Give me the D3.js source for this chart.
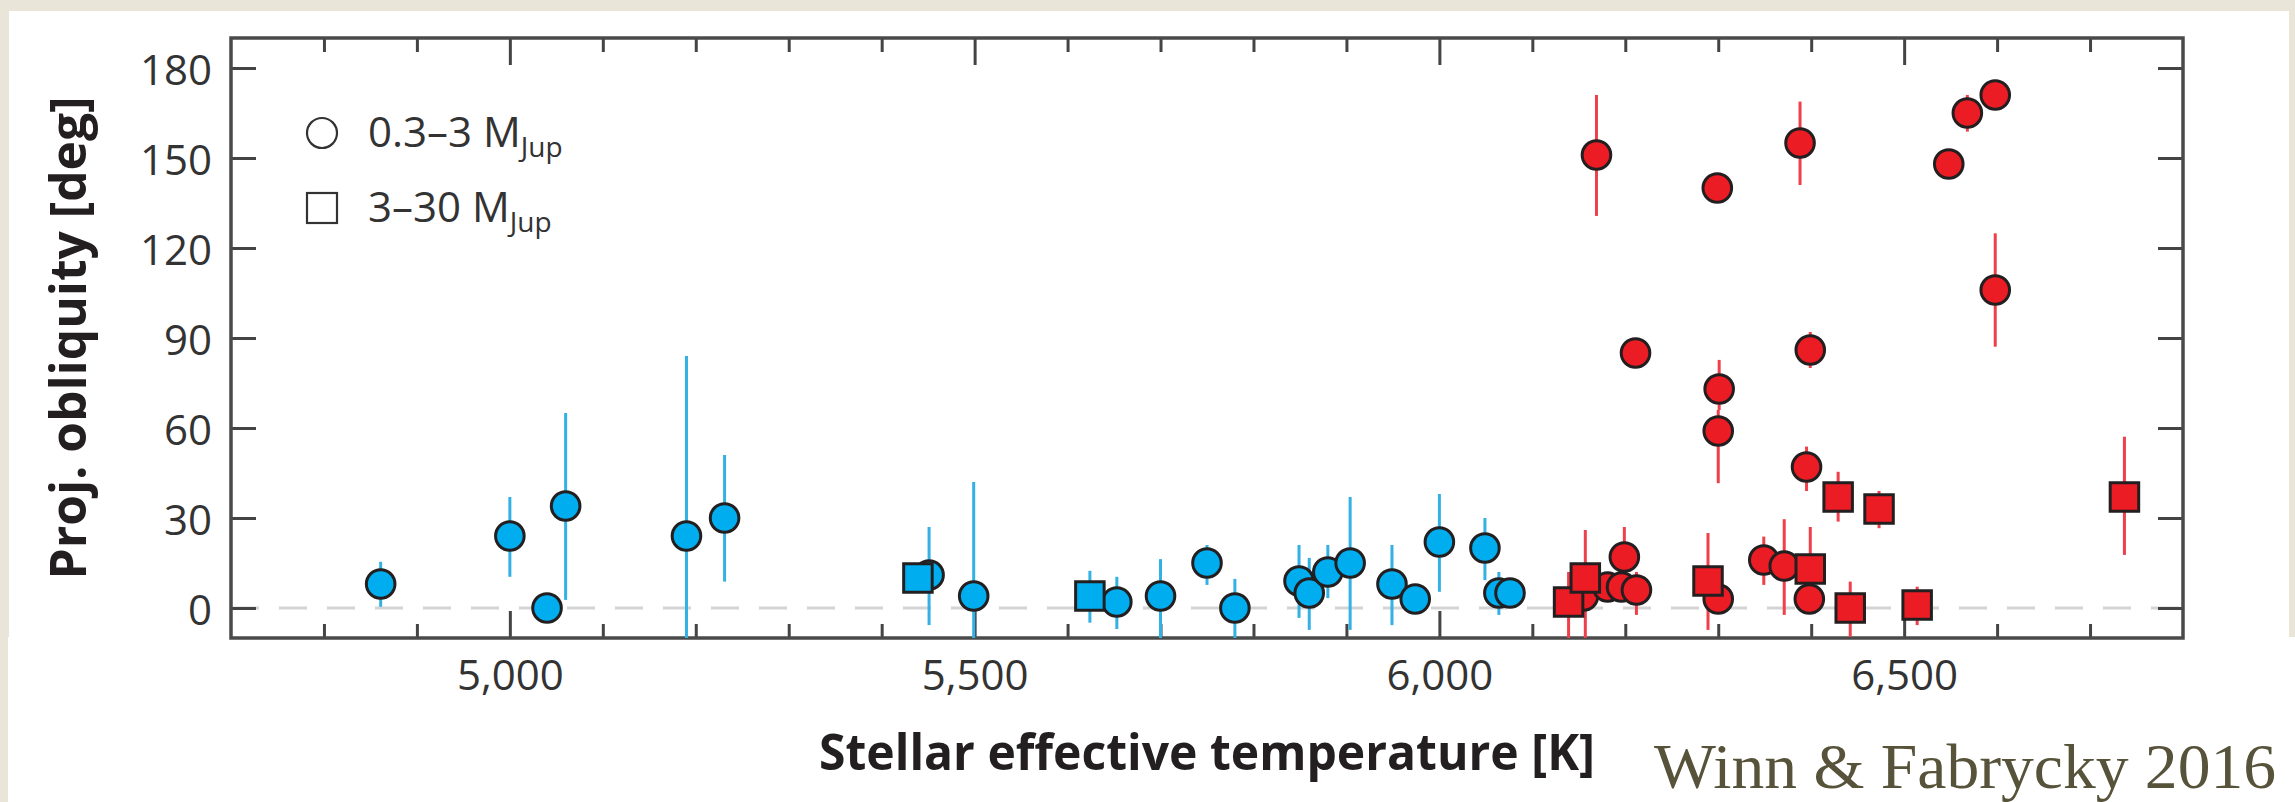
<!DOCTYPE html>
<html><head><meta charset="utf-8">
<script src="https://cdn.jsdelivr.net/npm/d3@7"></script>
<style>
body{margin:0;background:#e9e5d9;}
svg{display:block}
</style>
</head><body>
<svg id="chart" width="2295" height="802"></svg>
<script>
// Each entry: [Teff (K), projected obliquity (deg), error-bar low, error-bar high]
const coolPlanets = [
  [4861, 8, 0.4, 15.4], [5000, 24, 10.4, 37], [5040, 0, 0, 0], [5060, 34, 2.7, 65],
  [5190, 24, -40, 84], [5231, 30, 8.8, 51], [5451, 11, -5.7, 27], [5499, 4, -34, 42],
  [5653, 2, -7, 10.4], [5700, 4, -12, 16.3], [5750, 15, 7.7, 21], [5780, 0, -12, 9.7],
  [5849, 9, -3.3, 21], [5860, 5, -7.3, 16.7], [5880, 12, 3.3, 21], [5904, 15, -7.3, 37],
  [5949, 8, -5.7, 21], [5974, 3, 3, 3], [6000, 22, 5.4, 38], [6049, 20, 9.3, 30],
  [6064, 5, -2.3, 12], [6076, 5, 5, 5]
];
const coolBrownDwarfs = [
  [5439, 10, 10, 10], [5624, 4, -4.9, 12.4]
];
const hotPlanets = [
  [6155, 4, 4, 4], [6169, 151, 130.7, 171], [6181, 7, 7, 7], [6196, 7, 7, 7],
  [6199, 17, 8, 27], [6211, 85, 85, 85], [6212, 6, -2.3, 12], [6299, 140, 140, 140],
  [6300, 59, 41.6, 66], [6301, 73, 66, 82.7], [6300, 3, 3, 3], [6349, 16, 7.7, 23.8],
  [6371, 14, -2.3, 29.6], [6388, 155, 141, 168.8], [6395, 47, 39, 53.8], [6398, 3, 3, 3],
  [6399, 86, 80, 92], [6548, 148, 148, 148], [6568, 165, 158.8, 171], [6598, 171, 171, 171],
  [6598, 106, 87.1, 124.9]
];
const hotBrownDwarfs = [
  [6139, 2, -12, 12], [6157, 10, -12, 26], [6289, 9, -7.3, 25], [6399, 13, 0, 27],
  [6429, 37, 28.8, 45.4], [6442, 0, -9.6, 8.8], [6473, 33, 26.6, 39], [6514, 1, -5.7, 7.1],
  [6737, 37, 17.7, 57.1]
];
const xMajorTicks = [5000, 5500, 6000, 6500];
const xTickLabels = ["5,000", "5,500", "6,000", "6,500"];
const xMinorTicks = d3.range(4800, 6800, 100);
const yTicks = [0, 30, 60, 90, 120, 150, 180];
const legendLabels = ["0.3\u20133 M", "3\u201330 M"];
const legendSub = "Jup";
const xTitle = "Stellar effective temperature [K]";
const yTitle = "Proj. obliquity [deg]";
const credit = "Winn & Fabrycky 2016";

const blueFill = "#00aeef", blueErr = "#33b0e4";
const redFill = "#ec1c24", redErr = "#ef3f4b";

const svg = d3.select("#chart");
const L = 231, R = 2183, T = 38, B = 638;
const x = d3.scaleLinear().domain([4700, 6800]).range([L, R]);
const y = d3.scaleLinear().domain([-10, 190]).range([B, T]);

// background panel
svg.append("rect").attr("x", 0).attr("y", 0).attr("width", 2295).attr("height", 802).attr("fill", "#e9e5d9");
svg.append("rect").attr("x", 9).attr("y", 11).attr("width", 2280).attr("height", 791).attr("fill", "#fff");
svg.append("rect").attr("x", 8).attr("y", 637).attr("width", 2287).attr("height", 165).attr("fill", "#fff");

svg.append("clipPath").attr("id", "plotclip").append("rect")
  .attr("x", L).attr("y", T).attr("width", R - L).attr("height", B - T);

// zero dashed line
svg.append("line").attr("x1", L).attr("x2", R).attr("y1", y(0)).attr("y2", y(0))
  .attr("stroke", "#d4d4d4").attr("stroke-width", 3).attr("stroke-dasharray", "28,20");

function styleAxis(g) {
  g.select(".domain").remove();
  g.selectAll(".tick line").attr("stroke", "#444").attr("stroke-width", 3);
  g.selectAll(".tick text").attr("fill", "#333").attr("font-family", "'Open Sans', sans-serif").attr("font-size", 42);
}

// bottom axis
svg.append("g").attr("transform", `translate(0,${B})`)
  .call(d3.axisBottom(x).tickValues(xMinorTicks.filter(d => !xMajorTicks.includes(d))).tickFormat("").tickSize(-14))
  .call(styleAxis);
svg.append("g").attr("transform", `translate(0,${B})`)
  .call(d3.axisBottom(x).tickValues(xMajorTicks).tickFormat((d, i) => xTickLabels[i]).tickSize(-27).tickPadding(22))
  .call(styleAxis);
// top axis
svg.append("g").attr("transform", `translate(0,${T})`)
  .call(d3.axisTop(x).tickValues(xMinorTicks.filter(d => !xMajorTicks.includes(d))).tickFormat("").tickSize(-14))
  .call(styleAxis);
svg.append("g").attr("transform", `translate(0,${T})`)
  .call(d3.axisTop(x).tickValues(xMajorTicks).tickFormat("").tickSize(-27))
  .call(styleAxis);
// left axis
const ly = svg.append("g").attr("transform", `translate(${L},0)`)
  .call(d3.axisLeft(y).tickValues(yTicks).tickSize(-25).tickPadding(19))
  .call(styleAxis);
ly.selectAll(".tick text").attr("dy", "0.4em");
// right axis
svg.append("g").attr("transform", `translate(${R},0)`)
  .call(d3.axisRight(y).tickValues(yTicks).tickFormat("").tickSize(-25))
  .call(styleAxis);

// frame
svg.append("rect").attr("x", L).attr("y", T).attr("width", R - L).attr("height", B - T)
  .attr("fill", "none").attr("stroke", "#4a4a4a").attr("stroke-width", 3.5);

// error bars
const eg = svg.append("g").attr("clip-path", "url(#plotclip)");
function errBars(data, color) {
  eg.selectAll(null).data(data.filter(d => d[3] > d[2])).join("line")
    .attr("x1", d => x(d[0])).attr("x2", d => x(d[0]))
    .attr("y1", d => y(d[2])).attr("y2", d => y(d[3]))
    .attr("stroke", color).attr("stroke-width", 3);
}
errBars(coolPlanets, blueErr); errBars(coolBrownDwarfs, blueErr);
errBars(hotPlanets, redErr); errBars(hotBrownDwarfs, redErr);

const mg = svg.append("g");
function circles(data, fill) {
  mg.selectAll(null).data(data).join("circle")
    .attr("cx", d => x(d[0])).attr("cy", d => y(d[1])).attr("r", 14.3)
    .attr("fill", fill).attr("stroke", "#231f20").attr("stroke-width", 3);
}
function squares(data, fill) {
  const s = 28.5;
  mg.selectAll(null).data(data).join("rect")
    .attr("x", d => x(d[0]) - s / 2).attr("y", d => y(d[1]) - s / 2)
    .attr("width", s).attr("height", s)
    .attr("fill", fill).attr("stroke", "#231f20").attr("stroke-width", 3);
}
circles(coolPlanets, blueFill);
circles(hotPlanets, redFill);
squares(coolBrownDwarfs, blueFill);
squares(hotBrownDwarfs, redFill);

// legend
svg.append("circle").attr("cx", 322).attr("cy", 133).attr("r", 15)
  .attr("fill", "none").attr("stroke", "#333").attr("stroke-width", 2.2);
svg.append("rect").attr("x", 307).attr("y", 193).attr("width", 30).attr("height", 30)
  .attr("fill", "none").attr("stroke", "#333").attr("stroke-width", 2.2);
[147, 222].forEach((by, i) => {
  const t = svg.append("text").attr("x", 368).attr("y", by)
    .attr("font-family", "'Open Sans', sans-serif").attr("font-size", 42).attr("fill", "#333");
  t.append("tspan").text(legendLabels[i]);
  t.append("tspan").attr("font-size", 28).attr("dy", 10).text(legendSub);
});

// axis titles
svg.append("text").attr("x", (L + R) / 2).attr("y", 770).attr("text-anchor", "middle")
  .attr("font-family", "'Open Sans', sans-serif").attr("font-weight", 700).attr("font-size", 51)
  .attr("fill", "#231f20").attr("textLength", 776).attr("lengthAdjust", "spacingAndGlyphs")
  .text(xTitle);
svg.append("text").attr("transform", `translate(86,${(T + B) / 2}) rotate(-90)`).attr("text-anchor", "middle")
  .attr("font-family", "'Open Sans', sans-serif").attr("font-weight", 700).attr("font-size", 51)
  .attr("fill", "#231f20").attr("textLength", 483).attr("lengthAdjust", "spacingAndGlyphs")
  .text(yTitle);

// credit
svg.append("text").attr("x", 1654).attr("y", 788)
  .attr("font-family", "'Liberation Serif', 'DejaVu Serif', serif").attr("font-size", 64)
  .attr("fill", "#57533a").attr("textLength", 622).attr("lengthAdjust", "spacingAndGlyphs")
  .text(credit);
</script>
</body></html>
